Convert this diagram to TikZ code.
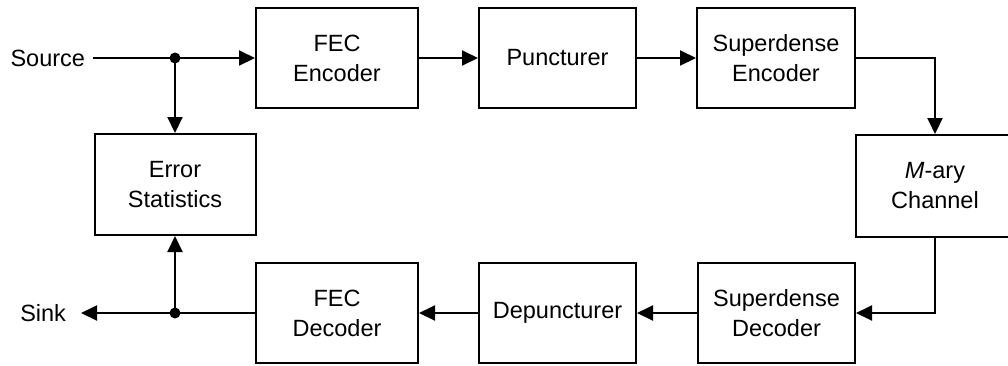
\documentclass[tikz,border=0pt]{standalone}
\usepackage{fontspec}
\setmainfont{Liberation Sans}
\usetikzlibrary{arrows.meta}
\begin{document}
\begin{tikzpicture}[x=1pt,y=-1pt,
  line width=2pt,
  every node/.style={font=\fontsize{23.5}{30}\selectfont},
  block/.style={draw, line width=2pt, align=center, minimum height=100pt, minimum width=157pt, inner sep=0pt},
  arr/.style={-{Triangle[length=16pt,width=15pt]}},
  label/.style={inner sep=0pt},
  dot/.style={circle, fill, inner sep=0pt, minimum size=11pt}]
  \clip (0,0) rectangle (1008,365);
  \useasboundingbox (0,0) rectangle (1008,365);

  % transmitter chain
  \node[block, minimum width=162pt] (fecenc) at (337,58) {FEC\\Encoder};
  \node[block] (punct) at (557.5,58) {Puncturer};
  \node[block, minimum width=158pt] (sdenc) at (776,58) {Superdense\\Encoder};
  \node[block, minimum width=158pt, minimum height=102pt] (chan) at (935,186) {\textit{M}-ary\\Channel};

  % receiver chain
  \node[block] (sddec) at (776.5,313) {Superdense\\Decoder};
  \node[block] (depunct) at (557.5,313) {Depuncturer};
  \node[block, minimum width=162pt] (fecdec) at (337,313) {FEC\\Decoder};
  \node[block, minimum width=161pt, minimum height=101pt] (errstat) at (175,184.5) {Error\\Statistics};

  % terminals and branch points
  \node[label, anchor=east] (source) at (86,58) {Source};
  \node[label, anchor=east] (sink) at (67,313) {Sink};
  \node[dot] (j1) at (175,58) {};
  \node[dot] (j2) at (175,313) {};
  \coordinate (c1) at (chan.north |- sdenc.east);
  \coordinate (c2) at (chan.south |- sddec.east);

  % connectors
  \draw ([xshift=7pt]source.east) -- (j1.center);
  \draw[arr] (j1.center) -- (fecenc.west);
  \draw[arr] (j1.center) -- (errstat.north);
  \draw[arr] (fecenc) -- (punct);
  \draw[arr] (punct) -- (sdenc);
  \draw[arr] (sdenc.east) -- (c1) -- (chan.north);
  \draw[arr] (chan.south) -- (c2) -- (sddec.east);
  \draw[arr] (sddec) -- (depunct);
  \draw[arr] (depunct) -- (fecdec);
  \draw (fecdec.west) -- (j2.center);
  \draw[arr] (j2.center) -- ([xshift=14pt]sink.east);
  \draw[arr] (j2.center) -- (errstat.south);
\end{tikzpicture}
\end{document}
